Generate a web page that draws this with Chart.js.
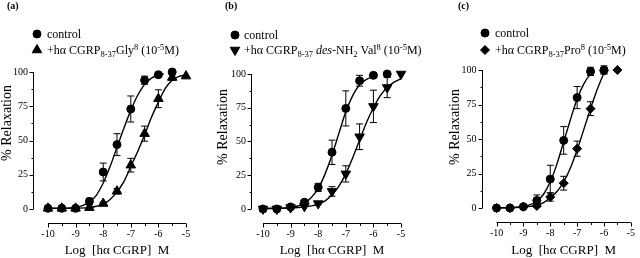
<!DOCTYPE html>
<html>
<head>
<meta charset="utf-8">
<script src="https://cdn.jsdelivr.net/npm/chart.js@4"></script>
<style>
  body { margin: 0; background: #fff; }
  #wrap { position: relative; width: 640px; height: 258px; overflow: hidden; }
  canvas { position: absolute; top: 0; }
</style>
</head>
<body>
<div id="wrap">
  <canvas id="pa" width="210" height="258" style="left:0px"></canvas>
  <canvas id="pb" width="240" height="258" style="left:210px"></canvas>
  <canvas id="pc" width="220" height="258" style="left:420px"></canvas>
</div>
<script>
// log dose of h-alpha CGRP (M)
const doses = [-10, -9.5, -9, -8.5, -8, -7.5, -7, -6.5, -6, -5.5, -5];
const xTickLabels = [-10, -9, -8, -7, -6, -5];
const xMinorTicks = [-9.5, -8.5, -7.5, -6.5, -5.5];
const yTickLabels = [0, 25, 50, 75, 100];
const yMinorTicks = [12.5, 37.5, 62.5, 87.5];

// (a) control vs Gly8
const ctrlA    = [0.5, 0.5, 0.5, 5.5, 27, 47, 73, 94, 98, 100];
const ctrlAErr = [0, 0, 0, 2.5, 6.5, 8, 9.5, 3, 1, 0];
const glyA     = [0.5, 0.5, 0.5, 1, 4, 13, 32, 55, 80.5, 96, 97];
const glyAErr  = [0, 0, 0, 0, 1, 2, 5, 5.5, 6.5, 2, 0];
const fitCtrlAX = [-10, -9.5, -9, -8.75, -8.5, -8.25, -8, -7.75, -7.5, -7.25, -7, -6.75, -6.5, -6.25, -6, -5.8];
const fitCtrlAY = [0.5, 0.6, 1.2, 2.5, 5, 10, 19, 31, 45, 59, 72, 83, 91, 95.5, 97.8, 98.6];
const fitGlyAX = [-10, -9.5, -9, -8.5, -8.25, -8, -7.75, -7.5, -7.25, -7, -6.75, -6.5, -6.25, -6, -5.75, -5.5, -5.25, -5.1];
const fitGlyAY = [0.5, 0.5, 0.6, 1, 2, 3.5, 7, 12.5, 20, 31, 42, 54, 67, 78, 88, 94, 96.8, 97.5];

// (b) control vs des-NH2 Val8
const ctrlB    = [0, 0, 1.5, 5, 16, 42, 74.5, 95, 99, 100];
const ctrlBErr = [0, 0, 0.5, 1.5, 3, 9, 13, 4, 0.5, 0];
const valB     = [0, 0, 1, 2, 4, 13, 26, 53.5, 76, 90, 100];
const valBErr  = [0, 0, 0, 0, 0.5, 3.5, 6, 9.5, 12, 7.5, 0];
const fitCtrlBX = [-10, -9.5, -9, -8.75, -8.5, -8.25, -8, -7.75, -7.5, -7.25, -7, -6.75, -6.5, -6.25, -6, -5.85];
const fitCtrlBY = [0.3, 0.5, 1.2, 2.2, 4.2, 8.5, 15, 26, 40, 56, 72, 84, 92, 96, 98, 98.6];
const fitValBX = [-10, -9.5, -9, -8.5, -8.25, -8, -7.75, -7.5, -7.25, -7, -6.75, -6.5, -6.25, -6, -5.75, -5.5, -5.25, -5];
const fitValBY = [0.3, 0.4, 0.7, 1.5, 2.3, 3.5, 6, 10.5, 17, 26, 38, 51, 64, 75, 84, 90, 94, 96.5];

// (c) control vs Pro8
const ctrlC    = [0, 0, 1, 5.5, 21, 49, 80, 99, 100];
const ctrlCErr = [0, 0, 0.5, 4, 10, 10, 8, 3, 3];
const proC     = [0, 0, 1, 1.5, 8, 18, 43, 72, 99.5, 100];
const proCErr  = [0, 0, 0, 1, 3, 5, 5.5, 5, 2, 0];
const fitCtrlCX = [-10, -9.5, -9, -8.75, -8.5, -8.25, -8, -7.75, -7.5, -7.25, -7, -6.75, -6.5, -6.35];
const fitCtrlCY = [0.2, 0.4, 1.2, 2.5, 5, 10, 19, 32, 48, 64, 79, 90, 97, 99];
const fitProCX = [-10, -9.5, -9, -8.75, -8.5, -8.25, -8, -7.75, -7.5, -7.25, -7, -6.75, -6.5, -6.25, -6];
const fitProCY = [0.2, 0.3, 0.7, 1.2, 2, 4, 7.5, 12, 19, 29, 42, 57, 72, 86, 98];

const SERIF = "'Liberation Serif', 'Times New Roman', serif";

const pts = (xs, ys) => ys.map((y, i) => ({ x: xs[i], y: y }));

function fitLine(xs, ys) {
  return {
    data: pts(xs, ys), showLine: true, pointRadius: 0, borderColor: '#000',
    borderWidth: 1.4, cubicInterpolationMode: 'monotone', clip: false
  };
}
function marks(ys, errs, style, r, rot) {
  return {
    data: pts(doses, ys), errors: errs, showLine: false, pointStyle: style,
    pointRadius: r, rotation: rot, backgroundColor: '#000', borderColor: '#000',
    borderWidth: 1, clip: false
  };
}

function marker(ctx, style, r, rot, x, y) {
  ctx.fillStyle = '#000'; ctx.strokeStyle = '#000'; ctx.lineWidth = 1;
  Chart.helpers.drawPoint(ctx, { pointStyle: style, radius: r, rotation: rot, borderWidth: 1 }, x, y);
}

function drawRuns(ctx, runs, x, y) {
  ctx.textBaseline = 'alphabetic';
  ctx.textAlign = 'left';
  ctx.fillStyle = '#000';
  runs.forEach(([t, k]) => {
    let size = 12, dy = 0, st = '';
    if (k === 'sub') { size = 8.5; dy = 3; }
    if (k === 'sup') { size = 8.5; dy = -4.5; }
    if (k === 'i') st = 'italic ';
    ctx.font = st + size + 'px ' + SERIF;
    ctx.fillText(t, x, y + dy);
    x += ctx.measureText(t).width;
  });
}

const decor = {
  id: 'decor',
  beforeDatasetsDraw(chart, args, o) {
    const ctx = chart.ctx, xs = chart.scales.x, ys = chart.scales.y;
    ctx.save();
    ctx.strokeStyle = '#000';
    ctx.lineWidth = 1;
    ctx.beginPath();
    // y axis (0..100 only)
    const ax = Math.round(chart.chartArea.left) + 0.5;
    ctx.moveTo(ax, ys.getPixelForValue(100));
    ctx.lineTo(ax, ys.getPixelForValue(0));
    yTickLabels.forEach(v => {
      const py = Math.round(ys.getPixelForValue(v)) + 0.5;
      ctx.moveTo(ax - 4, py); ctx.lineTo(ax, py);
    });
    yMinorTicks.forEach(v => {
      const py = Math.round(ys.getPixelForValue(v)) + 0.5;
      ctx.moveTo(ax - 2, py); ctx.lineTo(ax, py);
    });
    // x axis (-10..-5 only)
    const by = Math.round(chart.chartArea.bottom) + 0.5;
    ctx.moveTo(xs.getPixelForValue(-10), by);
    ctx.lineTo(xs.getPixelForValue(-5), by);
    xTickLabels.forEach(v => {
      const px = Math.round(xs.getPixelForValue(v)) + 0.5;
      ctx.moveTo(px, by); ctx.lineTo(px, by + 4);
    });
    xMinorTicks.forEach(v => {
      const px = Math.round(xs.getPixelForValue(v)) + 0.5;
      ctx.moveTo(px, by); ctx.lineTo(px, by + 2.5);
    });
    // error bars
    chart.data.datasets.forEach(ds => {
      if (!ds.errors) return;
      ds.data.forEach((p, j) => {
        const e = ds.errors[j];
        if (!e) return;
        const px = xs.getPixelForValue(p.x);
        const t = ys.getPixelForValue(p.y + e), b = ys.getPixelForValue(p.y - e);
        ctx.moveTo(px, t); ctx.lineTo(px, b);
        ctx.moveTo(px - 3.5, t); ctx.lineTo(px + 3.5, t);
        ctx.moveTo(px - 3.5, b); ctx.lineTo(px + 3.5, b);
      });
    });
    ctx.stroke();
    ctx.restore();
  },
  afterDraw(chart, args, o) {
    const ctx = chart.ctx, xs = chart.scales.x;
    ctx.save();
    ctx.fillStyle = '#000';
    // panel letter
    ctx.font = 'bold 10px ' + SERIF;
    ctx.textBaseline = 'middle';
    ctx.textAlign = 'left';
    ctx.fillText(o.label, o.labelX, 6);
    // legend
    o.legend.forEach((it, i) => {
      const y = o.rows[i];
      marker(ctx, it.style, it.r, it.rot, o.legendX, y);
      drawRuns(ctx, it.runs, o.textX, y + 4);
    });
    // axis titles
    ctx.font = '13px ' + SERIF;
    ctx.textAlign = 'center';
    ctx.textBaseline = 'middle';
    ctx.fillText('Log  [h\u03b1 CGRP]  M', xs.getPixelForValue(-7.5), 251);
    ctx.translate(o.yTitleX, o.yTitleY);
    ctx.rotate(-Math.PI / 2);
    ctx.font = '14px ' + SERIF;
    ctx.fillText('% Relaxation', 0, 0);
    ctx.restore();
  }
};

function panel(id, g) {
  new Chart(document.getElementById(id), {
    type: 'scatter',
    data: {
      datasets: [
        fitLine(g.fitCX, g.fitCY),
        fitLine(g.fitAX, g.fitAY),
        marks(g.ctrl, g.ctrlErr, 'circle', 4, 0),
        marks(g.ant, g.antErr, g.style, g.r, g.rot)
      ]
    },
    options: {
      responsive: false,
      animation: false,
      events: [],
      layout: { padding: { top: g.top, left: g.left, right: g.right, bottom: 0 } },
      scales: {
        x: {
          type: 'linear', min: g.xMin, max: -5,
          grid: { display: false, drawTicks: false }, border: { display: false },
          afterBuildTicks: s => { s.ticks = xTickLabels.map(v => ({ value: v })); },
          afterFit: s => { s.height = g.xH; },
          ticks: { color: '#000', font: { family: SERIF, size: 10 }, padding: 5,
                   maxRotation: 0, autoSkip: false, callback: v => String(v) }
        },
        y: {
          type: 'linear', min: g.yMin, max: 100,
          grid: { display: false, drawTicks: false }, border: { display: false },
          afterBuildTicks: s => { s.ticks = yTickLabels.map(v => ({ value: v })); },
          afterFit: s => { s.width = g.yW; },
          ticks: { color: '#000', font: { family: SERIF, size: 10 }, padding: 5,
                   callback: v => String(v) }
        }
      },
      plugins: {
        legend: { display: false },
        tooltip: { enabled: false },
        decor: g.decor
      }
    },
    plugins: [decor]
  });
}

panel('pa', {
  ctrl: ctrlA, ctrlErr: ctrlAErr, ant: glyA, antErr: glyAErr,
  fitCX: fitCtrlAX, fitCY: fitCtrlAY, fitAX: fitGlyAX, fitAY: fitGlyAY,
  style: 'triangle', r: 5.5, rot: 0,
  top: 72, left: 0, right: 24, yW: 33, xH: 35, xMin: -10.543, yMin: -10.2,
  decor: {
    label: '(a)', labelX: 7, legendX: 37, textX: 47, rows: [34, 50],
    yTitleX: 7, yTitleY: 123,
    legend: [
      { style: 'circle', r: 4, rot: 0, runs: [['control', 'n']] },
      { style: 'triangle', r: 5.5, rot: 0,
        runs: [['+h\u03b1 CGRP', 'n'], ['8-37', 'sub'], ['Gly', 'n'], ['8', 'sup'],
               [' (10', 'n'], ['-5', 'sup'], ['M)', 'n']] }
    ]
  }
});

panel('pb', {
  ctrl: ctrlB, ctrlErr: ctrlBErr, ant: valB, antErr: valBErr,
  fitCX: fitCtrlBX, fitCY: fitCtrlBY, fitAX: fitValBX, fitAY: fitValBY,
  style: 'triangle', r: 5.5, rot: 180,
  top: 74, left: 6, right: 49, yW: 35, xH: 35, xMin: -10.435, yMin: -10.4,
  decor: {
    label: '(b)', labelX: 15, legendX: 25, textX: 34, rows: [35, 50],
    yTitleX: 13, yTitleY: 127,
    legend: [
      { style: 'circle', r: 4, rot: 0, runs: [['control', 'n']] },
      { style: 'triangle', r: 5.5, rot: 180,
        runs: [['+h\u03b1 CGRP', 'n'], ['8-37', 'sub'], [' ', 'n'], ['des', 'i'], ['-NH', 'n'],
               ['2', 'sub'], [' Val', 'n'], ['8', 'sup'], [' (10', 'n'], ['-5', 'sup'], ['M)', 'n']] }
    ]
  }
});

panel('pc', {
  ctrl: ctrlC, ctrlErr: ctrlCErr, ant: proC, antErr: proCErr,
  fitCX: fitCtrlCX, fitCY: fitCtrlCY, fitAX: fitProCX, fitAY: fitProCY,
  style: 'rectRot', r: 4.5, rot: 0,
  top: 70, left: 28, right: 5, yW: 33.5, xH: 36, xMin: -10.56, yMin: -10.1,
  decor: {
    label: '(c)', labelX: 38, legendX: 65, textX: 75, rows: [33, 50],
    yTitleX: 35, yTitleY: 127,
    legend: [
      { style: 'circle', r: 4, rot: 0, runs: [['control', 'n']] },
      { style: 'rectRot', r: 4.5, rot: 0,
        runs: [['+h\u03b1 CGRP', 'n'], ['8-37', 'sub'], ['Pro', 'n'], ['8', 'sup'],
               [' (10', 'n'], ['-5', 'sup'], ['M)', 'n']] }
    ]
  }
});
</script>
</body>
</html>
